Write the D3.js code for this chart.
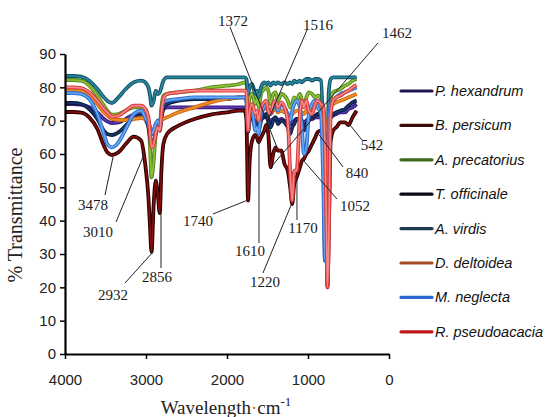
<!DOCTYPE html>
<html>
<head>
<meta charset="utf-8">
<script src="https://cdn.jsdelivr.net/npm/d3@7"></script>
<style>
  body { margin: 0; background: #fff; }
  svg { display: block; }
</style>
</head>
<body>
<svg id="chart" width="545" height="417"></svg>
<script>
// wavenumber grid (cm-1), shared by all spectra
const wavenumbers = [4000,3900,3800,3700,3600,3520,3478,3420,3340,3250,
  3150,3060,3010,2970,2950,2932,2905,2880,2855,2830,
  2810,2785,2740,2600,2400,2200,2000,1850,1780,1760,
  1740,1720,1690,1650,1630,1610,1580,1540,1516,1490,
  1462,1430,1400,1372,1330,1290,1250,1220,1195,1170,
  1140,1100,1075,1052,1020,990,950,910,880,840,
  810,790,770,760,745,720,690,650,600,542,
  500,450,400];

// % transmittance
const pHexandrum = [75,75,74.8,74,72.5,70.5,69.8,69.3,69.5,70.5,
  71.8,72,71.5,70,67.5,66,66.5,68,69,68.5,
  71.5,73.5,74,74,74,74,74,74,74,73.5,
  68,70.5,71.5,69,70,68,70.5,71,71.5,70.5,
  70,70.5,71,70,70.5,70,69.5,69,69.5,70,
  70.5,70.5,70,69.5,70,70.5,70.5,71,71,71,
  70.5,68,66,66.5,69,71,71.5,72,72.5,72.5,
  73.5,74,75];
const bPersicum = [72.6,72.6,72.4,71,67.5,62.5,60.5,59.7,60.5,63,
  65.2,64,57,47,38,30.6,45,52,48,42.3,
  55,63,66,68.5,70.5,71.8,72.5,73,73,70,
  46,58,64,65.7,65,63.6,65,67,68.7,66,
  56,60,62,61,61,57,55,50,45,51,
  53,56,58,58.5,60,61,63,65,66.6,67,
  66,62,40,20,35,64,67,68,69.5,69.5,
  68.7,71,73];
const aPrecatorius = [82.2,82.2,82,80.5,77.5,74.5,73,71.8,72,73,
  74,74,73.5,70,62,53,58,66,70,68,
  74,77.5,78,78.5,79,80,80.5,81,81.5,81,
  74,77,78,75,77,74,78,79.5,80,79,
  75,78,78.5,76,78,77.5,76,74,75,77,
  76,78,76,74,77,78.5,78,77,77.5,76.5,
  74,65,55,56,70,77,78.5,79,79.5,80.5,
  81,82,82.5];
const tOfficinale = [75.3,75.3,75,73.5,70.5,67,66,65.7,66.5,68.5,
  71,71.5,70.5,68,65,63,64,66,68,67,
  71,73.5,75,76,76.5,76.5,76.5,77,77,76,
  66.6,70,72,68,70,67,70,71.5,72,70,
  68,70,71,69,70,69.5,68,66,68,69,
  70.5,70,69,67,69,70.5,71,71.5,72,71.5,
  70,65,60,61,66,71,72,72.5,73,73.5,
  74.5,75.5,76];
const aVirdis = [83.4,83.4,83.2,82,79.5,77,76,75.3,77,79.5,
  81.5,82,81.5,80,77.5,74.5,76,79,78,78.5,
  80,82,83,83,83,83,83,83,83,82.5,
  78,80,81,78,79,77,80,81.5,81,81.5,
  80.5,81.5,81,81.5,81,81.5,81,81.5,81,82,
  81.5,82,81.5,82,82.5,82.5,82,82.5,82.5,82,
  60,28,28,50,78,82.5,83,83,83,83,
  83,83,83];
const dDeltoidea = [79,79,78.8,77.5,75,72.5,71.5,70.5,70.2,70.2,
  70.5,70.8,70.5,69.5,68,67,67.5,68.5,69.5,69.5,
  70,70.5,71,72.5,74,75.5,76.5,77,77,76.5,
  70,72.5,73.5,71,72,70,72.5,73.5,74,73,
  72,73,73.5,72.5,73,72.5,72,71,72,72.5,
  73,73,72.5,72,73,73.5,73.5,74,74,74,
  73,70,67,67,70,74,75,75.5,76,76.5,
  77,77.5,78];
const mNeglecta = [78.3,78.3,78,76.5,72,66,63,62,63.5,67.5,
  72,73,71,69,67,66,67,69,70,68.5,
  73,75.5,76,76.5,77,77,77,77,77,76,
  68,72,73,67,68,66,72,74,75,73,
  72,74,75,73,75,74,72,70,73,75,
  76,74,68,60,62,72,75,76,74,72,
  50,28,28,45,68,75,76,77,78,78.5,
  79,79.5,80];
const rPseudoacacia = [80,80,79.8,78.5,76,73.5,72.5,71.2,71.5,73,
  74.5,74.5,73.5,71,66,62,63,66,68,67,
  72,76.5,78,78.5,79,79,79,79,79,78.5,
  67,73,75,72,73,70,74,75.5,76,73,
  72,75,76,74,75.5,74,70,55,46,55,
  55,72,76,74,76,73,72,75,76,75,
  74,62,35,20,32,72,76,77,77.5,78.5,
  79,80,80.7];

const seriesNames = ["P. hexandrum","B. persicum","A. precatorius","T. officinale",
  "A. virdis","D. deltoidea","M. neglecta","R. pseudoacacia"];
const seriesValues = [pHexandrum,bPersicum,aPrecatorius,tOfficinale,
  aVirdis,dDeltoidea,mNeglecta,rPseudoacacia];

const xTicks = [4000,3000,2000,1000,0];
const yTicks = [0,10,20,30,40,50,60,70,80,90];

// peak labels: label centre, leader start, leader end (wavenumber, %T)
const peakLabels = ["3478","3010","2932","2856","1740","1610","1220","1170","1052","840","542","1372","1516","1462"];
const labelAt  = [[3654,44.7],[3593,36.6],[3407,17.7],[2864,23.1],[2358,39.9],[1716,30.9],[1531,21.6],[1062,37.8],[420,44.4],[395,54.3],[210,62.7],[1926,99.9],[877,98.7],[-99,96.3]];
const leaderFrom = [[3506,47.7],[3370,39.6],[3259,21.3],[2815,25.8],[2173,42],[1605,33.3],[1556,24.3],[1136,40.2],[642,46.5],[568,56.1],[333,64.2],[1963,98.1],[1012,97.2],[136,93.3]];
const leaderTo = [[3407,59.1],[3037,59.1],[2914,30.6],[2815,42.3],[1741,46.2],[1605,63.6],[1198,45.3],[1136,53.1],[1062,58.2],[889,66.6],[481,68.7],[1370,61.2],[1519,68.7],[1457,56.1]];

// styles
const lineOuter = ["#3a1a80","#2a0000","#5a8a1a","#0a1a40","#135468","#d06a10","#2a70d0","#d83a3a"];
const lineInner = ["#5a3ab0","#8a0c0c","#8cc43a","#1a3a70","#2a8aa2","#f09030","#6aaaf0","#f48a8a"];
const legendColor = ["#1c1850","#3a0c0c","#3e6a1c","#0c0c18","#1a3c4c","#a04c20","#2a6ad0","#c01818"];

const svg = d3.select("#chart");

const x = d3.scaleLinear().domain([4000, 0]).range([65, 389]);
const y = d3.scaleLinear().domain([0, 90]).range([354, 54]);

const line = d3.line()
  .x((d, i) => x(wavenumbers[i]))
  .y(d => y(d))
  .curve(d3.curveMonotoneX);

// spectra
const g = svg.append("g");
seriesValues.forEach((vals, k) => {
  g.append("path").datum(vals)
    .attr("d", line)
    .attr("fill", "none")
    .attr("stroke", lineOuter[k])
    .attr("stroke-width", 3.8)
    .attr("stroke-linejoin", "round");
  g.append("path").datum(vals)
    .attr("d", line)
    .attr("fill", "none")
    .attr("stroke", lineInner[k])
    .attr("stroke-width", 1.6)
    .attr("stroke-linejoin", "round");
});

// axes
const yAxis = svg.append("g")
  .attr("transform", "translate(65,0)")
  .call(d3.axisLeft(y).tickValues(yTicks).tickSize(5).tickSizeOuter(0).tickPadding(4));
const xAxis = svg.append("g")
  .attr("transform", "translate(0,354)")
  .call(d3.axisBottom(x).tickValues(xTicks).tickSize(5).tickSizeOuter(0).tickPadding(15).tickFormat(d3.format("d")));

[yAxis, xAxis].forEach(a => {
  a.select(".domain").attr("stroke", "#000").attr("stroke-width", 2.2);
  a.selectAll(".tick line").attr("stroke", "#000").attr("stroke-width", 1.5);
  a.selectAll(".tick text")
    .attr("fill", "#222")
    .style("font-family", "'Liberation Sans', Arial, sans-serif")
    .style("font-size", "15px");
});

// axis titles
svg.append("text")
  .attr("transform", "translate(22,215) rotate(-90)")
  .attr("text-anchor", "middle")
  .style("font-family", "'Liberation Serif', 'Times New Roman', serif")
  .style("font-size", "20px")
  .attr("fill", "#222")
  .text("% Transmittance");

const xt = svg.append("text")
  .attr("x", 226).attr("y", 414)
  .attr("text-anchor", "middle")
  .style("font-family", "'Liberation Serif', 'Times New Roman', serif")
  .style("font-size", "19px")
  .attr("fill", "#222");
xt.append("tspan").text("Wavelength");
xt.append("tspan").attr("fill", "#c07020").text("·");
xt.append("tspan").text("cm");
xt.append("tspan").attr("dy", -8).style("font-size", "13px").text("-1");

// peak leaders + labels
const ann = svg.append("g");
peakLabels.forEach((t, i) => {
  ann.append("line")
    .attr("x1", x(leaderFrom[i][0])).attr("y1", y(leaderFrom[i][1]))
    .attr("x2", x(leaderTo[i][0])).attr("y2", y(leaderTo[i][1]))
    .attr("stroke", "#222").attr("stroke-width", 1);
  ann.append("text")
    .attr("x", x(labelAt[i][0])).attr("y", y(labelAt[i][1]))
    .attr("dy", "0.36em")
    .attr("text-anchor", "middle")
    .style("font-family", "'Liberation Serif', 'Times New Roman', serif")
    .style("font-size", "15px")
    .attr("fill", "#1a1a1a")
    .text(t);
});

// legend
const legend = svg.append("g").attr("transform", "translate(400,91)");
seriesNames.forEach((name, k) => {
  const row = legend.append("g").attr("transform", `translate(0,${k * 34.4})`);
  row.append("line")
    .attr("x1", 1).attr("x2", 32).attr("y1", 0).attr("y2", 0)
    .attr("stroke", legendColor[k]).attr("stroke-width", 3.2)
    .attr("stroke-linecap", "round");
  row.append("text")
    .attr("x", 35).attr("y", 0).attr("dy", "0.35em")
    .style("font-family", "'Liberation Sans', Arial, sans-serif")
    .style("font-style", "italic")
    .style("font-size", "14.5px")
    .attr("fill", "#111")
    .text(name);
});
</script>
</body>
</html>
